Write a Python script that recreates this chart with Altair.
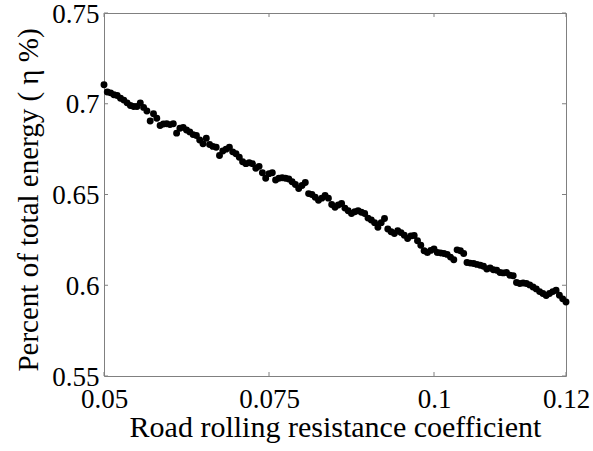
import altair as alt
import pandas as pd

# Road rolling resistance coefficient (x) and percent of total energy (y)
x_vals = [round(0.05 + 0.0005 * i, 4) for i in range(141)]
y_vals = [
    0.7105, 0.7065, 0.7060, 0.7050, 0.7045, 0.7030, 0.7020, 0.7005, 0.6990, 0.6985,
    0.6985, 0.7005, 0.6980, 0.6960, 0.6905, 0.6945, 0.6920, 0.6880, 0.6888, 0.6890,
    0.6885, 0.6890, 0.6838, 0.6865, 0.6870, 0.6855, 0.6845, 0.6830, 0.6825, 0.6800,
    0.6780, 0.6810, 0.6775, 0.6765, 0.6760, 0.6715, 0.6740, 0.6750, 0.6760, 0.6735,
    0.6725, 0.6705, 0.6680, 0.6670, 0.6675, 0.6670, 0.6645, 0.6655, 0.6620, 0.6590,
    0.6615, 0.6620, 0.6580, 0.6590, 0.6592, 0.6590, 0.6585, 0.6570, 0.6555, 0.6533,
    0.6550, 0.6566, 0.6505, 0.6500, 0.6485, 0.6468, 0.6480, 0.6494, 0.6480, 0.6445,
    0.6430, 0.6442, 0.6450, 0.6425, 0.6410, 0.6395, 0.6405, 0.6410, 0.6402, 0.6395,
    0.6370, 0.6360, 0.6345, 0.6320, 0.6345, 0.6368, 0.6310, 0.6295, 0.6285, 0.6300,
    0.6290, 0.6275, 0.6258, 0.6272, 0.6274, 0.6245, 0.6220, 0.6190, 0.6180, 0.6192,
    0.6200, 0.6180, 0.6178, 0.6175, 0.6170, 0.6155, 0.6140, 0.6195, 0.6190, 0.6175,
    0.6125, 0.6122, 0.6120, 0.6115, 0.6110, 0.6105, 0.6090, 0.6095, 0.6085, 0.6083,
    0.6070, 0.6068, 0.6070, 0.6055, 0.6052, 0.6015, 0.6010, 0.6012, 0.6010, 0.6002,
    0.5990, 0.5980, 0.5965, 0.5955, 0.5944, 0.5955, 0.5965, 0.5972, 0.5945, 0.5925,
    0.5908,
]
x_ticks = [0.05, 0.075, 0.1, 0.12]
y_ticks = [0.55, 0.6, 0.65, 0.7, 0.75]

W, H = 462, 363
FONT = "Liberation Serif"
GRAY = "#808080"

df = pd.DataFrame({"x": x_vals, "y": y_vals})
xt = pd.DataFrame({"x": x_ticks})
yt = pd.DataFrame({"y": y_ticks})

xscale = alt.Scale(domain=[0.05, 0.12], nice=False, zero=False)
yscale = alt.Scale(domain=[0.55, 0.75], nice=False, zero=False)

xaxis = alt.Axis(
    values=x_ticks, format=".3~g", title="Road rolling resistance coefficient",
    grid=False, ticks=False, domain=False,
    labelFont=FONT, labelFontSize=27, labelColor="black",
    labelBaseline="alphabetic", labelPadding=31, labelFlush=False,
    titleFont=FONT, titleFontSize=30, titleFontWeight="normal", titleColor="black",
    titleX=W / 2, titleY=60, titleBaseline="alphabetic", titleAlign="center",
)
yaxis = alt.Axis(
    values=y_ticks, format=".3~g", title="Percent of total energy ( η %)",
    grid=False, ticks=False, domain=False,
    labelFont=FONT, labelFontSize=27, labelColor="black",
    labelPadding=5, labelFlush=False, labelOffset=1,
    titleFont=FONT, titleFontSize=29, titleFontWeight="normal", titleColor="black",
    titleAngle=-90, titleX=-67, titleY=H / 2 + 5, titleBaseline="alphabetic", titleAlign="center",
)

points = alt.Chart(df).mark_circle(size=48, color="black", opacity=1, clip=False).encode(
    x=alt.X("x:Q", scale=xscale, axis=xaxis),
    y=alt.Y("y:Q", scale=yscale, axis=yaxis),
)

tick_len = 4
bottom_ticks = alt.Chart(xt).mark_rule(color=GRAY, strokeWidth=1).encode(
    x=alt.X("x:Q", scale=xscale, axis=xaxis), y=alt.value(H), y2=alt.value(H - tick_len))
top_ticks = alt.Chart(xt).mark_rule(color=GRAY, strokeWidth=1).encode(
    x=alt.X("x:Q", scale=xscale, axis=xaxis), y=alt.value(0), y2=alt.value(tick_len))
left_ticks = alt.Chart(yt).mark_rule(color=GRAY, strokeWidth=1).encode(
    y=alt.Y("y:Q", scale=yscale, axis=yaxis), x=alt.value(0), x2=alt.value(tick_len))
right_ticks = alt.Chart(yt).mark_rule(color=GRAY, strokeWidth=1).encode(
    y=alt.Y("y:Q", scale=yscale, axis=yaxis), x=alt.value(W), x2=alt.value(W - tick_len))

chart = alt.layer(points, bottom_ticks, top_ticks, left_ticks, right_ticks).properties(
    width=W, height=H,
    autosize=alt.AutoSizeParams(type="none"),
    padding={"left": 104, "top": 13, "right": 27, "bottom": 75},
    background="white",
).configure_view(stroke=GRAY, strokeWidth=1)

chart.save("out.html", embed_options={"renderer": "svg", "actions": False})
